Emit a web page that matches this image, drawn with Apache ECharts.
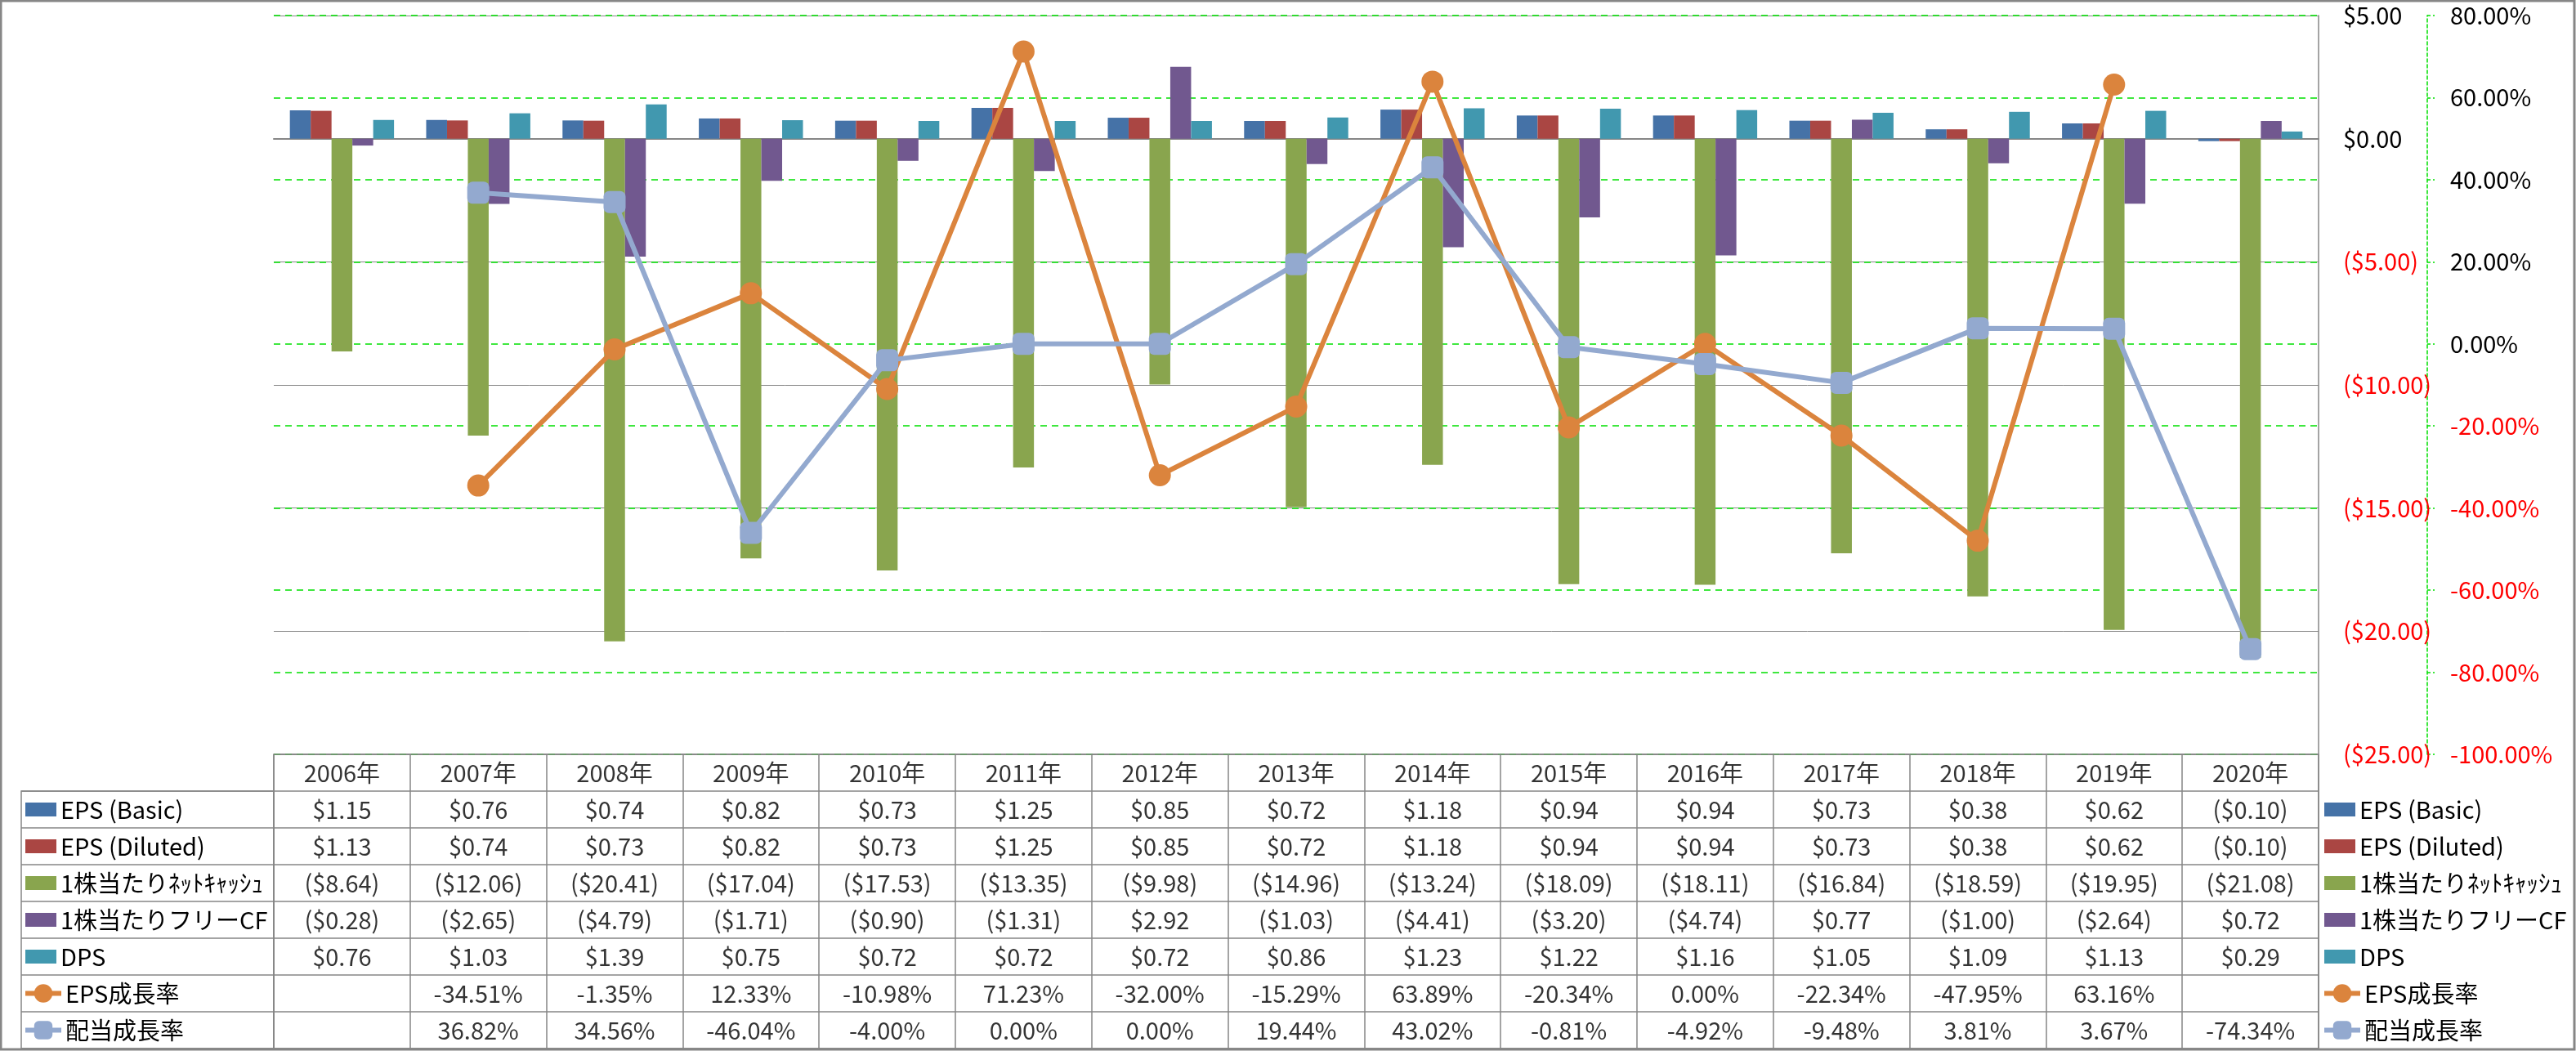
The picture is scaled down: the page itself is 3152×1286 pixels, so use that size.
<!DOCTYPE html>
<html>
<head>
<meta charset="utf-8">
<script src="https://cdn.jsdelivr.net/npm/echarts@6/dist/echarts.min.js"></script>
<style>
html,body{margin:0;padding:0;background:#fff;}
#chart{width:3152px;height:1286px;}
</style>
</head>
<body>
<div id="chart"></div>
<script>
const years = ['2006年','2007年','2008年','2009年','2010年','2011年','2012年','2013年','2014年','2015年','2016年','2017年','2018年','2019年','2020年'];
const epsBasic   = [1.15,0.76,0.74,0.82,0.73,1.25,0.85,0.72,1.18,0.94,0.94,0.73,0.38,0.62,-0.10];
const epsDiluted = [1.13,0.74,0.73,0.82,0.73,1.25,0.85,0.72,1.18,0.94,0.94,0.73,0.38,0.62,-0.10];
const netCash    = [-8.64,-12.06,-20.41,-17.04,-17.53,-13.35,-9.98,-14.96,-13.24,-18.09,-18.11,-16.84,-18.59,-19.95,-21.08];
const fcfPS      = [-0.28,-2.65,-4.79,-1.71,-0.90,-1.31,2.92,-1.03,-4.41,-3.20,-4.74,0.77,-1.00,-2.64,0.72];
const dps        = [0.76,1.03,1.39,0.75,0.72,0.72,0.72,0.86,1.23,1.22,1.16,1.05,1.09,1.13,0.29];
const epsGrowth  = [null,-34.51,-1.35,12.33,-10.98,71.23,-32.00,-15.29,63.89,-20.34,0.00,-22.34,-47.95,63.16,null];
const divGrowth  = [null,36.82,34.56,-46.04,-4.00,0.00,0.00,19.44,43.02,-0.81,-4.92,-9.48,3.81,3.67,-74.34];
const seriesNames = ['EPS (Basic)','EPS (Diluted)','1株当たりﾈｯﾄｷｬｯｼｭ','1株当たりフリーCF','DPS','EPS成長率','配当成長率'];
const colors = ['#4572A7','#AA4643','#89A54E','#71588F','#4198AF','#DB843D','#93A9CF'];

const FONT = 'Noto Sans CJK JP';
const GRAY = '#868686';
const GREEN = '#00E000';
const ROW_H = 45;
const fmtD = v => v < 0 ? '($' + (-v).toFixed(2) + ')' : '$' + v.toFixed(2);
const fmtP = v => v.toFixed(2) + '%';

// table cells
const tableRows = ['hdr'].concat(seriesNames);
const cells = [];
years.forEach((y, i) => cells.push([i, 0, y]));
const rowData = [epsBasic, epsDiluted, netCash, fcfPS, dps];
rowData.forEach((arr, r) => arr.forEach((v, i) => cells.push([i, r + 1, fmtD(v)])));
epsGrowth.forEach((v, i) => { if (v !== null) cells.push([i, 6, fmtP(v)]); });
divGrowth.forEach((v, i) => { if (v !== null) cells.push([i, 7, fmtP(v)]); });

const chart = echarts.init(document.getElementById('chart'));
const barSeries = [epsBasic, epsDiluted, netCash, fcfPS, dps].map((d, k) => ({
  name: seriesNames[k], type: 'bar', xAxisIndex: 0, yAxisIndex: 0, data: d,
  itemStyle: { color: colors[k] }, barGap: '0%', barCategoryGap: '23.6%'
}));
const lineSeries = [epsGrowth, divGrowth].map((d, k) => ({
  name: seriesNames[5 + k], type: 'line', xAxisIndex: 0, yAxisIndex: 1, data: d,
  symbol: k === 0 ? 'circle' : 'roundRect', symbolSize: 27,
  lineStyle: { color: colors[5 + k], width: 6 },
  itemStyle: { color: colors[5 + k] }, z: 5
}));
const barLegendData = seriesNames.slice(0, 5).map(n => ({ name: n, icon: 'rect' }));
const lineLegendData = seriesNames.slice(5).map(n => ({ name: n, lineStyle: { width: 6 } }));
const textStyle = { fontSize: 29, fontFamily: FONT, color: '#000', lineHeight: ROW_H };
function mkLegends(left) {
  return [
    { orient: 'vertical', left: left, top: 968, itemGap: 0, padding: 0, itemWidth: 38, itemHeight: 17,
      textStyle: textStyle, data: barLegendData, selectedMode: false },
    { orient: 'vertical', left: left - 3, top: 968 + 5 * ROW_H, itemGap: 0, padding: 0, itemWidth: 44, itemHeight: 28,
      textStyle: textStyle, data: lineLegendData, selectedMode: false }
  ];
}

chart.setOption({
  animation: false,
  backgroundColor: '#fff',
  textStyle: { fontFamily: FONT },
  graphic: [{ type: 'rect', shape: { x: 1, y: 1, width: 3149, height: 1283 },
    style: { fill: 'none', stroke: GRAY, lineWidth: 3 }, z: 100 }],
  legend: mkLegends(31).concat(mkLegends(2844)),
  grid: [
    { left: 335, right: 315, top: 19, height: 904 },
    { left: 335, right: 315, top: 923, bottom: 3, show: true, borderColor: GRAY, borderWidth: 1.5 },
    { left: 26, width: 309, top: 968, bottom: 3, show: true, borderColor: GRAY, borderWidth: 1.5 }
  ],
  xAxis: [
    { type: 'category', gridIndex: 0, data: years, boundaryGap: true,
      axisLine: { onZero: true, lineStyle: { color: GRAY, width: 2 } },
      axisTick: { show: false }, axisLabel: { show: false }, splitLine: { show: false } },
    { type: 'category', gridIndex: 1, data: years, boundaryGap: true,
      axisLine: { show: false }, axisTick: { show: false }, axisLabel: { show: false },
      splitLine: { show: true, lineStyle: { color: GRAY, width: 1.5 } } },
    { type: 'category', gridIndex: 2, data: ['x'], show: false }
  ],
  yAxis: [
    { type: 'value', gridIndex: 0, position: 'right', min: -25, max: 5, interval: 5,
      axisLine: { show: true, lineStyle: { color: GRAY, width: 1.5 } }, axisTick: { show: false },
      axisLabel: { margin: 30, fontSize: 29, fontFamily: FONT, align: 'left',
        formatter: v => fmtD(v), color: v => (Number(v) < 0 ? '#FF0000' : '#000') },
      splitLine: { show: true, lineStyle: { color: GRAY, width: 1 } } },
    { type: 'value', gridIndex: 0, position: 'right', offset: 133, min: -100, max: 80, interval: 20,
      axisLine: { show: true, lineStyle: { color: GREEN, width: 1.5, type: [4, 3] } },
      axisTick: { show: true, length: 9, lineStyle: { color: GREEN, width: 1.5, type: [4, 3] } },
      axisLabel: { margin: 28, fontSize: 29, fontFamily: FONT, align: 'left',
        formatter: v => fmtP(v), color: v => (Number(v) < 0 ? '#FF0000' : '#000') },
      splitLine: { show: true, lineStyle: { color: GREEN, width: 1.5, type: [8, 6] } } },
    { type: 'category', gridIndex: 1, data: tableRows, inverse: true,
      axisLine: { show: false }, axisTick: { show: false }, axisLabel: { show: false },
      splitLine: { show: true, lineStyle: { color: GRAY, width: 1.5 } } },
    { type: 'category', gridIndex: 2, data: seriesNames, inverse: true,
      axisLine: { show: false }, axisTick: { show: false }, axisLabel: { show: false },
      splitLine: { show: true, lineStyle: { color: GRAY, width: 1.5 } } }
  ],
  series: barSeries.concat(lineSeries).concat([{
    type: 'scatter', name: 'table', xAxisIndex: 1, yAxisIndex: 2, data: cells,
    symbolSize: 1, itemStyle: { color: 'rgba(0,0,0,0)' }, silent: true,
    label: { show: true, position: 'inside', formatter: p => p.value[2],
      fontSize: 29, fontFamily: FONT, color: '#000' }
  }])
});
</script>
</body>
</html>
